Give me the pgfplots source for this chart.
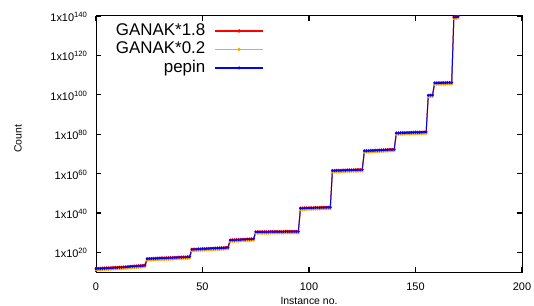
\documentclass[border=0pt]{standalone}
\usepackage{fontspec}
\setmainfont{Liberation Sans}
\usepackage{pgfplots}
\usepackage{pgfplotstable}
\pgfplotsset{compat=1.18}
\definecolor{gred}{RGB}{255,0,0}
\definecolor{gorange}{RGB}{255,170,0}
\definecolor{gblue}{RGB}{0,0,255}
% x  GANAK*1.8  GANAK*0.2  pepin
\pgfplotstableread{
x r o b
0 7.2e11 8e10 4e11
1 9e11 1e11 5e11
2 9e11 1e11 5e11
3 1.08e12 1.2e11 6e11
4 1.26e12 1.4e11 7e11
5 1.44e12 1.6e11 8e11
6 1.62e12 1.8e11 9e11
7 1.8e12 2e11 1e12
8 2.16e12 2.4e11 1.2e12
9 2.7e12 3e11 1.5e12
10 2.7e12 3e11 1.5e12
11 3.6e12 4e11 2e12
12 3.6e12 4e11 2e12
13 4.5e12 5e11 2.5e12
14 5.4e12 6e11 3e12
15 7.2e12 8e11 4e12
16 9e12 1e12 5e12
17 1.08e13 1.2e12 6e12
18 1.26e13 1.4e12 7e12
19 1.44e13 1.6e12 8e12
20 1.8e13 2e12 1e13
21 2.16e13 2.4e12 1.2e13
22 2.7e13 3e12 1.5e13
23 3.6e13 4e12 2e13
24 7.2e16 8e15 4e16
25 9e16 1e16 5e16
26 9e16 1e16 5e16
27 1.08e17 1.2e16 6e16
28 1.26e17 1.4e16 7e16
29 1.44e17 1.6e16 8e16
30 1.62e17 1.8e16 9e16
31 1.8e17 2e16 1e17
32 1.8e17 2e16 1e17
33 2.16e17 2.4e16 1.2e17
34 2.16e17 2.4e16 1.2e17
35 2.7e17 3e16 1.5e17
36 2.7e17 3e16 1.5e17
37 3.6e17 4e16 2e17
38 3.6e17 4e16 2e17
39 4.5e17 5e16 2.5e17
40 4.5e17 5e16 2.5e17
41 5.4e17 6e16 3e17
42 5.4e17 6e16 3e17
43 7.2e17 8e16 4e17
44 9e17 1e17 5e17
45 4.5e21 5e20 2.5e21
46 5.4e21 6e20 3e21
47 5.4e21 6e20 3e21
48 7.2e21 8e20 4e21
49 7.2e21 8e20 4e21
50 9e21 1e21 5e21
51 9e21 1e21 5e21
52 1.08e22 1.2e21 6e21
53 1.26e22 1.4e21 7e21
54 1.44e22 1.6e21 8e21
55 1.62e22 1.8e21 9e21
56 1.8e22 2e21 1e22
57 2.16e22 2.4e21 1.2e22
58 2.16e22 2.4e21 1.2e22
59 2.7e22 3e21 1.5e22
60 2.7e22 3e21 1.5e22
61 3.6e22 4e21 2e22
62 4.5e22 5e21 2.5e22
63 2.16e26 2.4e25 1.2e26
64 2.7e26 3e25 1.5e26
65 2.7e26 3e25 1.5e26
66 3.6e26 4e25 2e26
67 3.6e26 4e25 2e26
68 4.5e26 5e25 2.5e26
69 5.4e26 6e25 3e26
70 5.4e26 6e25 3e26
71 7.2e26 8e25 4e26
72 7.2e26 8e25 4e26
73 9e26 1e26 5e26
74 1.08e27 1.2e26 6e26
75 3.6e30 4e29 2e30
76 3.6e30 4e29 2e30
77 3.6e30 4e29 2e30
78 3.6e30 4e29 2e30
79 3.6e30 4e29 2e30
80 3.6e30 4e29 2e30
81 3.6e30 4e29 2e30
82 4.5e30 5e29 2.5e30
83 4.5e30 5e29 2.5e30
84 4.5e30 5e29 2.5e30
85 4.5e30 5e29 2.5e30
86 4.5e30 5e29 2.5e30
87 4.5e30 5e29 2.5e30
88 4.5e30 5e29 2.5e30
89 5.4e30 6e29 3e30
90 5.4e30 6e29 3e30
91 5.4e30 6e29 3e30
92 5.4e30 6e29 3e30
93 5.4e30 6e29 3e30
94 5.4e30 6e29 3e30
95 5.4e30 6e29 3e30
96 3.6e42 4e41 2e42
97 3.6e42 4e41 2e42
98 4.5e42 5e41 2.5e42
99 4.5e42 5e41 2.5e42
100 5.4e42 6e41 3e42
101 5.4e42 6e41 3e42
102 5.4e42 6e41 3e42
103 7.2e42 8e41 4e42
104 7.2e42 8e41 4e42
105 7.2e42 8e41 4e42
106 9e42 1e42 5e42
107 9e42 1e42 5e42
108 9e42 1e42 5e42
109 1.08e43 1.2e42 6e42
110 1.08e43 1.2e42 6e42
111 4.5e61 5e60 2.5e61
112 4.5e61 5e60 2.5e61
113 5.4e61 6e60 3e61
114 5.4e61 6e60 3e61
115 5.4e61 6e60 3e61
116 7.2e61 8e60 4e61
117 7.2e61 8e60 4e61
118 9e61 1e61 5e61
119 9e61 1e61 5e61
120 9e61 1e61 5e61
121 1.08e62 1.2e61 6e61
122 1.08e62 1.2e61 6e61
123 1.26e62 1.4e61 7e61
124 1.26e62 1.4e61 7e61
125 1.44e62 1.6e61 8e61
126 4.5e71 5e70 2.5e71
127 5.4e71 6e70 3e71
128 5.4e71 6e70 3e71
129 7.2e71 8e70 4e71
130 7.2e71 8e70 4e71
131 9e71 1e71 5e71
132 9e71 1e71 5e71
133 1.08e72 1.2e71 6e71
134 1.26e72 1.4e71 7e71
135 1.44e72 1.6e71 8e71
136 1.62e72 1.8e71 9e71
137 1.8e72 2e71 1e72
138 2.16e72 2.4e71 1.2e72
139 2.16e72 2.4e71 1.2e72
140 2.7e72 3e71 1.5e72
141 5.4e80 6e79 3e80
142 5.4e80 6e79 3e80
143 7.2e80 8e79 4e80
144 7.2e80 8e79 4e80
145 7.2e80 8e79 4e80
146 9e80 1e80 5e80
147 9e80 1e80 5e80
148 1.08e81 1.2e80 6e80
149 1.08e81 1.2e80 6e80
150 1.26e81 1.4e80 7e80
151 1.26e81 1.4e80 7e80
152 1.44e81 1.6e80 8e80
153 1.44e81 1.6e80 8e80
154 1.62e81 1.8e80 9e80
155 1.8e81 2e80 1e81
156 7.2e99 8e98 4e99
157 9e99 1e99 5e99
158 1.08e100 1.2e99 6e99
159 1.44e106 1.6e105 8e105
160 1.44e106 1.6e105 8e105
161 1.62e106 1.8e105 9e105
162 1.62e106 1.8e105 9e105
163 1.8e106 2e105 1e106
164 1.8e106 2e105 1e106
165 2.16e106 2.4e105 1.2e106
166 2.16e106 2.4e105 1.2e106
167 2.16e106 2.4e105 1.2e106
168 3.6e139 4e138 2e139
169 4.5e139 5e138 2.5e139
170 7.2e139 8e138 4e139
}\datatable

\begin{document}
\begin{tikzpicture}
\useasboundingbox (0bp,0bp) rectangle (534bp,306bp);
\begin{axis}[
  at={(96bp,34bp)}, anchor=south west,
  scale only axis, width=426bp, height=256bp,
  xmin=0, xmax=200,
  ymode=log, ymin=1e10, ymax=1e140,
  xtick={0,50,100,150,200},
  ytick={1e20,1e40,1e60,1e80,1e100,1e120,1e140},
  yticklabels={1x10\textsuperscript{20},1x10\textsuperscript{40},1x10\textsuperscript{60},1x10\textsuperscript{80},1x10\textsuperscript{100},1x10\textsuperscript{120},1x10\textsuperscript{140}},
  yminorticks=false, xminorticks=false,
  tick align=inside, major tick length=5bp,
  tick style={black, line width=1.2bp},
  axis line style={black, line width=1bp},
  ticklabel style={font=\fontsize{11}{13}\selectfont},
  /pgf/number format/assume math mode=true,
  xticklabel shift=7.5bp,
  yticklabel style={anchor=base east, yshift=-5.5bp, xshift=-5bp},
  xlabel={Instance no.}, ylabel={Count},
  label style={font=\fontsize{10.5}{12}\selectfont},
  xlabel style={at={(axis description cs:0.5,-0.1)}, anchor=north, inner sep=0pt},
  ylabel style={at={(axis description cs:-0.183,0.52)}, anchor=center, inner sep=0pt},
  legend cell align=right,
  legend plot pos=right,
  legend style={at={(axis description cs:0.3944,0.9785)}, anchor=north east,
    draw=none, fill=none, inner sep=0pt, row sep=0pt, column sep=8bp,
    font=\fontsize{17}{20}\selectfont,
    nodes={inner sep=1bp, text height=12.5bp, text depth=4bp}},
]
\addplot[gred, line width=1bp, mark=*, mark size=0.8bp,
  legend image code/.code={\draw[draw=gred, line width=1.5bp] (0bp,0bp) -- (48bp,0bp); \fill[gred] (24bp,0bp) circle (1.2bp);}]
  table[x=x, y=r] {\datatable};
\addlegendentry{GANAK*1.8}
\addplot[gorange, line width=1bp, mark=*, mark size=0.8bp,
  legend image code/.code={\draw[draw=gorange, line width=1.5bp] (0bp,0bp) -- (48bp,0bp); \fill[gorange] (24bp,0bp) circle (1.2bp);}]
  table[x=x, y=o] {\datatable};
\addlegendentry{GANAK*0.2}
\addplot[gblue, line width=1bp, mark=*, mark size=0.7bp,
  legend image code/.code={\draw[draw=gblue, line width=1.5bp] (0bp,0bp) -- (48bp,0bp); \fill[gblue] (24bp,0bp) circle (1bp);}]
  table[x=x, y=b] {\datatable};
\addlegendentry{pepin}
\end{axis}
\end{tikzpicture}
\end{document}
